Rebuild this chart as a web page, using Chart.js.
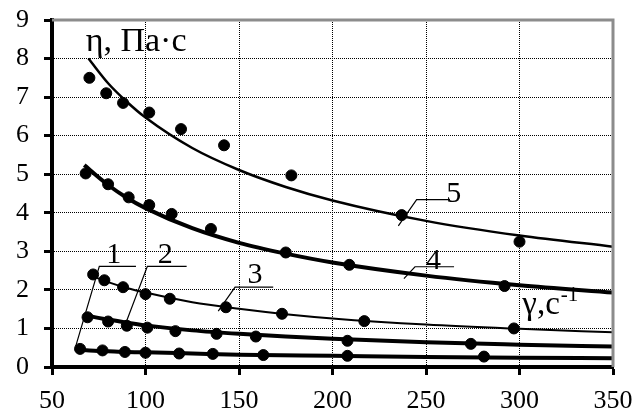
<!DOCTYPE html>
<html><head><meta charset="utf-8">
<script src="https://cdn.jsdelivr.net/npm/chart.js@4/dist/chart.umd.min.js"></script>
<style>html,body{margin:0;padding:0;background:#fff}#wrap{width:635px;height:415px}</style>
</head><body><div id="wrap"><canvas id="c" width="635" height="415"></canvas></div>
<script>
// Measured points (shear rate γ, 1/s ; viscosity η, Pa·s)
const p1X = [65, 77, 89, 100, 118, 136, 163, 208, 281];
const p1Y = [0.47, 0.43, 0.39, 0.37, 0.35, 0.34, 0.31, 0.29, 0.27];
const p2X = [69, 80, 90, 101, 116, 138, 159, 208, 274];
const p2Y = [1.29, 1.18, 1.07, 1.02, 0.93, 0.86, 0.79, 0.68, 0.60];
const p3X = [72, 78, 88, 100, 113, 143, 173, 217, 297];
const p3Y = [2.40, 2.25, 2.07, 1.89, 1.77, 1.55, 1.38, 1.19, 1.00];
const p4X = [68, 80, 91, 102, 114, 135, 175, 209, 292];
const p4Y = [5.02, 4.74, 4.40, 4.20, 3.97, 3.58, 2.97, 2.65, 2.10];
const p5X = [70, 79, 88, 102, 119, 142, 178, 237, 300];
const p5Y = [7.50, 7.10, 6.85, 6.60, 6.17, 5.75, 4.97, 3.94, 3.25];

// Trend curves
const fit1X = [64, 70, 80, 90, 100, 125, 150, 200, 250, 300, 350];
const fit1Y = [0.45, 0.43, 0.41, 0.39, 0.38, 0.35, 0.32, 0.29, 0.26, 0.24, 0.23];
const fit2X = [67.6, 70, 80, 90, 100, 125, 150, 175, 200, 250, 300, 350];
const fit2Y = [1.35, 1.32, 1.23, 1.15, 1.08, 0.95, 0.86, 0.79, 0.73, 0.64, 0.58, 0.53];
const fit3X = [72, 80, 90, 100, 125, 150, 175, 200, 250, 300, 350];
const fit3Y = [2.35, 2.20, 2.05, 1.93, 1.68, 1.51, 1.37, 1.26, 1.10, 0.99, 0.90];
const fit4X = [67.3, 70, 80, 90, 100, 125, 150, 175, 200, 250, 300, 350];
const fit4Y = [5.24, 5.12, 4.72, 4.39, 4.12, 3.60, 3.22, 2.94, 2.71, 2.37, 2.12, 1.93];
const fit5X = [69.5, 80, 90, 100, 125, 150, 175, 200, 250, 300, 350];
const fit5Y = [8.00, 7.36, 6.88, 6.47, 5.68, 5.11, 4.67, 4.32, 3.79, 3.41, 3.12];

const curveNames = ['1', '2', '3', '4', '5'];
const yTitle = 'η, Па·с';
const xTitle = 'γ,с';
const xTitleSup = '-1';

const zip = (xs, ys) => xs.map((x, i) => ({x, y: ys[i]}));

// Leader-line annotations (data coordinates)
const leaders = [
  {text: curveNames[0], tx: 79.0, ty: 2.71, pts: [[94.9, 2.61], [75.3, 2.61], [62.7, 0.54]]},
  {text: curveNames[1], tx: 106.5, ty: 2.71, pts: [[122.0, 2.61], [101.0, 2.61], [89.4, 1.13]]},
  {text: curveNames[2], tx: 154.5, ty: 2.19, pts: [[168.3, 2.07], [147.9, 2.07], [138.9, 1.45]]},
  {text: curveNames[3], tx: 250.0, ty: 2.53, pts: [[265.0, 2.60], [244.1, 2.60], [238.2, 2.29]]},
  {text: curveNames[4], tx: 260.8, ty: 4.28, pts: [[262.8, 4.34], [245.0, 4.34], [235.2, 3.66]]}
];

const SERIF = '"Liberation Serif", "Times New Roman", serif';

const decor = {
  id: 'decor',
  afterDatasetsDraw(chart) {
    const {ctx, chartArea: a, scales: {x, y}} = chart;
    ctx.save();
    // gray top and right frame
    ctx.strokeStyle = '#8c8c8c';
    ctx.lineWidth = 3;
    ctx.beginPath();
    ctx.moveTo(a.left, a.top);
    ctx.lineTo(a.right, a.top);
    ctx.lineTo(a.right, a.bottom);
    ctx.stroke();
    // leaders
    ctx.strokeStyle = '#000';
    ctx.lineWidth = 1.2;
    ctx.fillStyle = '#000';
    ctx.font = '30px ' + SERIF;
    ctx.textBaseline = 'alphabetic';
    ctx.textAlign = 'left';
    leaders.forEach(l => {
      ctx.beginPath();
      l.pts.forEach((p, i) => {
        const px = x.getPixelForValue(p[0]), py = y.getPixelForValue(p[1]);
        if (i === 0) ctx.moveTo(px, py); else ctx.lineTo(px, py);
      });
      ctx.stroke();
      ctx.fillText(l.text, x.getPixelForValue(l.tx), y.getPixelForValue(l.ty));
    });
    // axis titles
    ctx.font = '34px ' + SERIF;
    ctx.fillText(yTitle, x.getPixelForValue(68.0), y.getPixelForValue(8.2));
    ctx.font = '33px ' + SERIF;
    const gx = x.getPixelForValue(301.5), gy = y.getPixelForValue(1.38);
    ctx.fillText(xTitle, gx, gy);
    const w = ctx.measureText(xTitle).width;
    ctx.font = '21px ' + SERIF;
    ctx.fillText(xTitleSup, gx + w + 1, gy - 13);
    ctx.restore();
  }
};

const curve = (xs, ys, w) => ({
  type: 'line', data: zip(xs, ys), borderColor: '#000', borderWidth: w,
  pointRadius: 0, fill: false, cubicInterpolationMode: 'monotone'
});
const dots = (xs, ys) => ({
  type: 'scatter', data: zip(xs, ys), backgroundColor: '#000', borderColor: '#000',
  pointRadius: 5.5, pointHoverRadius: 5.5, showLine: false
});

new Chart(document.getElementById('c'), {
  type: 'scatter',
  data: {
    datasets: [
      curve(fit1X, fit1Y, 4), curve(fit2X, fit2Y, 4), curve(fit3X, fit3Y, 2),
      curve(fit4X, fit4Y, 4), curve(fit5X, fit5Y, 2.5),
      dots(p1X, p1Y), dots(p2X, p2Y), dots(p3X, p3Y), dots(p4X, p4Y), dots(p5X, p5Y)
    ]
  },
  options: {
    responsive: false,
    animation: false,
    layout: {padding: {top: 20, right: 22, left: 0, bottom: 0}},
    plugins: {legend: {display: false}, tooltip: {enabled: false}},
    scales: {
      x: {
        type: 'linear', min: 50, max: 350,
        ticks: {stepSize: 50, color: '#000', font: {family: SERIF, size: 26}, padding: 11, maxRotation: 0},
        grid: {color: '#000', lineWidth: 1, tickColor: '#000', tickWidth: 3, tickLength: 8},
        border: {color: '#000', width: 4, dash: [1, 1]},
        afterFit(s) { s.height = 48; s.paddingLeft = 0; s.paddingRight = 0; }
      },
      y: {
        type: 'linear', min: 0, max: 9,
        ticks: {stepSize: 1, color: '#000', font: {family: SERIF, size: 26}, padding: 15},
        grid: {color: '#000', lineWidth: 1, tickColor: '#000', tickWidth: 3, tickLength: 8},
        border: {color: '#000', width: 4, dash: [1, 1]},
        afterFit(s) { s.width = 52; s.paddingTop = 0; s.paddingBottom = 0; }
      }
    }
  },
  plugins: [decor]
});
</script>
</body></html>
